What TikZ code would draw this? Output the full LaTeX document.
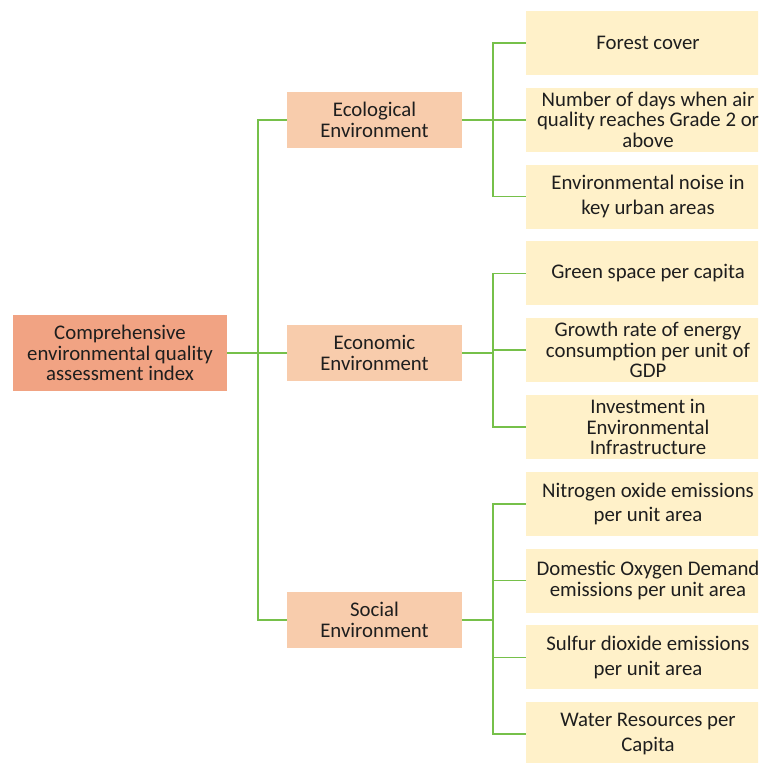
\documentclass[tikz,border=0pt]{standalone}
\usepackage{fontspec}
\setmainfont{Carlito}
\usetikzlibrary{positioning,calc}
\definecolor{croot}{RGB}{241,163,131}
\definecolor{cmid}{RGB}{248,204,172}
\definecolor{cleaf}{RGB}{255,241,201}
\definecolor{clink}{RGB}{118,192,74}
\definecolor{ctxt}{RGB}{30,30,30}

\begin{document}
\begin{tikzpicture}[
  x=1pt, y=-1pt,
  node distance=76.8pt, on grid,
  font=\fontsize{20.8}{20.5}\selectfont,
  text=ctxt,
  block/.style={rectangle, align=center, inner sep=0.5pt},
  rootbox/.style={block, fill=croot, minimum width=214pt, minimum height=76pt},
  midbox/.style={block, fill=cmid, minimum width=175pt, minimum height=56pt},
  leaf/.style={block, fill=cleaf, minimum width=244pt, minimum height=64pt},
  link/.style={draw=clink, line width=1.6pt},
  midlink/.style={link, line width=2.4pt}
]
\clip (0,0) rectangle (758,763);

% ---------- root and categories ----------
\node[rootbox] (root) at (120,353)
  {Comprehensive\\environmental quality\\assessment index};
\node[midbox] (eco) at (374.5,120) {Ecological\\Environment};
\node[midbox] (econ) at (374.5,353) {Economic\\Environment};
\node[midbox] (soc) at (374.5,620) {Social\\Environment};

% ---------- indicators ----------
\node[leaf] (l1) at (648,43) {Forest cover};
\node[leaf, below=of l1] (l2) {Number of days when air\\quality reaches Grade 2 or\\above};
\node[leaf, below=of l2] (l3) {Environmental noise in\\[4pt]key urban areas};
\node[leaf, below=of l3] (l4) {Green space per capita};
\node[leaf, below=of l4] (l5) {Growth rate of energy\\consumption per unit of\\GDP};
\node[leaf, below=of l5] (l6) {Investment in\\Environmental\\Infrastructure};
\node[leaf, below=of l6] (l7) {Nitrogen oxide emissions\\[4pt]per unit area};
\node[leaf, below=of l7] (l8) {Domestic Oxygen Demand\\emissions per unit area};
\node[leaf, below=of l8] (l9) {Sulfur dioxide emissions\\[4pt]per unit area};
\node[leaf, below=of l9] (l10) {Water Resources per\\[4pt]Capita};

% ---------- trunk ----------
\coordinate (trunk) at (258,353);
\draw[link] (root.east) -- (trunk);
\foreach \m in {eco,econ,soc}
  \draw[link] (trunk) |- (\m.west);

% ---------- branches ----------
\coordinate (ecoj) at ($(eco.east)+(31,0)$);
\coordinate (econj) at ($(econ.east)+(31,0)$);
\coordinate (socj) at ($(soc.east)+(31,0)$);
\draw[midlink] (eco.east) -- (ecoj);
\draw[midlink] (econ.east) -- (econj);
\draw[link] (soc.east) -- (socj);
\foreach \l in {l1,l2,l3}
  \draw[link] (ecoj) |- (\l.west);
\foreach \l in {l4,l5,l6}
  \draw[link] (econj) |- (\l.west);
\foreach \l in {l7,l8,l9,l10}
  \draw[link] (socj) |- (\l.west);

\end{tikzpicture}
\end{document}
